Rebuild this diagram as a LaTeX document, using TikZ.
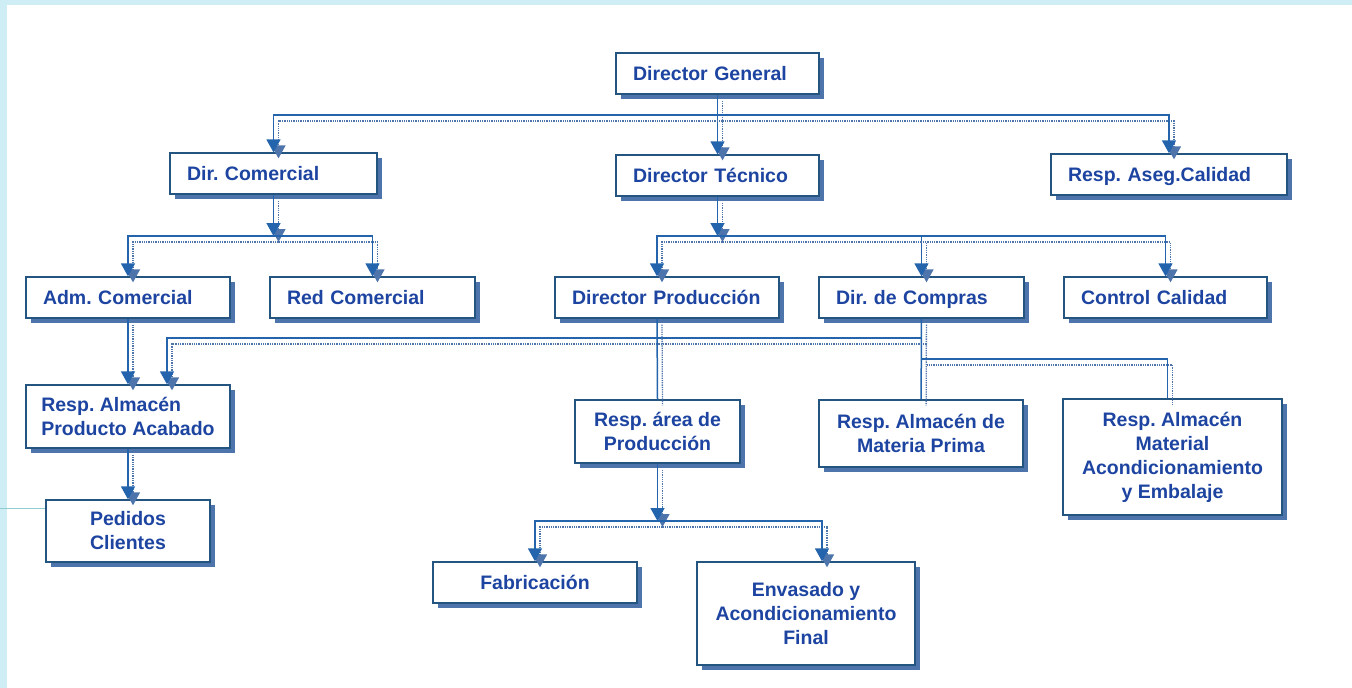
\documentclass[tikz,border=0pt]{standalone}
\usepackage{fontspec}
\setmainfont{Liberation Sans}
\usepackage{xcolor}
\usepackage{tikz}
\usetikzlibrary{calc}
\usetikzlibrary{arrows.meta}
\usetikzlibrary{shadows}
\definecolor{fondo}{RGB}{206,237,245}
\definecolor{marco}{RGB}{36,84,128}
\definecolor{trazo}{RGB}{36,100,172}
\definecolor{sombra}{RGB}{78,116,172}
\definecolor{letra}{RGB}{28,68,160}
\def\linea#1#2{\draw[sombreado,#1] #2; \draw[enlace,#1] #2;}

\begin{document}
\begin{tikzpicture}[x=1pt,y=-1pt,
	>={Triangle[width=14pt,length=13pt]},
	caja/.style={draw=marco,line width=1.3pt,fill=white,text=letra,
		font=\frenchspacing\bfseries\fontsize{19.5}{24}\selectfont,
		inner xsep=17pt,inner ysep=0pt,minimum height=41pt,align=left,
		general shadow={fill=sombra,shadow xshift=5pt,shadow yshift=-5pt}},
	simple/.style={caja,text height=15pt,text depth=1pt},
	varias/.style={caja,align=center,inner xsep=4pt},
	enlace/.style={draw=trazo,line width=1.5pt},
	sombreado/.style={draw=sombra,line width=1.3pt,densely dotted,
		transform canvas={xshift=5pt,yshift=-6pt}}]
					\useasboundingbox (0,0) rectangle (1352,688);
					\fill[fondo] (0,0) rectangle (1352,688);
					\fill[white] (7,5) rectangle (1352,688);
					\draw[fondo!70!teal,line width=1pt] (0,508)--(45,508);

					\node[simple,text width=169pt] (dg) at (717.5,73.5) {Director General};
					\node[simple,text width=173pt] (dcom) at (273.5,173.5) {Dir. Comercial};
					\node[simple,text width=169pt] (dtec) at (717.5,175.5) {Director Técnico};
					\node[simple,text width=202pt] (aseg) at (1169,174.5) {Resp. Aseg.Calidad};
					\node[simple,text width=170pt] (adm) at (128,297.5) {Adm. Comercial};
					\node[simple,text width=171pt] (red) at (372.5,297.5) {Red Comercial};
					\node[simple,text width=190pt] (dprod) at (667,297.5) {Director Producción};
					\node[simple,text width=171pt] (dcomp) at (921.5,297.5) {Dir. de Compras};
					\node[simple,text width=169pt] (ccal) at (1165.5,297.5) {Control Calidad};
					\node[varias,align=left,minimum width=204pt,minimum height=63pt] (rpa) at (128,416.5) {Resp. Almacén\\Producto Acabado};
					\node[varias,minimum width=164pt,minimum height=62pt] (ped) at (128,531) {Pedidos\\Clientes};
					\node[varias,minimum width=165pt,minimum height=63pt] (rarea) at (657.5,431.5) {Resp. área de\\Producción};
					\node[varias,minimum width=204pt,minimum height=67pt] (rmp) at (921,433.5) {Resp. Almacén de\\Materia Prima};
					\node[varias,minimum width=219pt,minimum height=116pt] (rmat) at (1172.5,457) {Resp. Almacén\\Material\\Acondicionamiento\\y Embalaje};
					\node[varias,text height=15pt,text depth=1pt,minimum width=204pt] (fab) at (535,582.5) {Fabricación};
					\node[varias,minimum width=218pt,minimum height=103pt] (env) at (806,613.5) {Envasado y\\Acondicionamiento\\Final};

					\coordinate (b1) at (717.5,115);
					\coordinate (b2) at (273.5,236);
					\coordinate (b3) at (717.5,236);
					\coordinate (b4) at (921.5,338);
					\coordinate (b5) at (921.5,359);
					\coordinate (b6) at (657.5,521);

					\linea{->}{(dg) -- (dtec)}
					\linea{->}{(b1) -| (dcom)}
					\linea{->}{(b1) -| (aseg)}
					\linea{->}{(dcom) -- (b2)}
					\linea{->}{(b2) -| (adm)}
					\linea{->}{(b2) -| (red)}
					\linea{->}{(dtec) -- (b3)}
					\linea{->}{(b3) -| ([xshift=-10pt]dprod.north)}
					\linea{->}{(b3) -| (dcomp)}
					\linea{->}{(b3) -| (ccal)}
					\linea{->}{(adm) -- (rpa)}
					\linea{->}{(b4) -| ([xshift=39pt]rpa.north)}
					\linea{}{([xshift=-10pt]dprod.south) -- (rarea.north)}
					\linea{}{(dcomp) -- (rmp)}
					\linea{}{(b5) -| ([xshift=-5pt]rmat.north)}
					\linea{->}{(rpa) -- (ped)}
					\linea{->}{(rarea) -- (b6)}
					\linea{->}{(b6) -| (fab)}
					\linea{->}{(b6) -| ([xshift=16pt]env.north)}
				\end{tikzpicture}
\end{document}
